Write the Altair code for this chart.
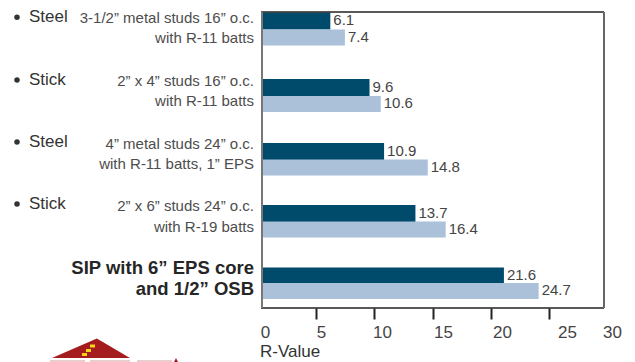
import altair as alt
import pandas as pd

FONT = "Liberation Sans"

# R-values per wall assembly
values_top = [6.1, 9.6, 10.9, 13.7, 21.6]
values_bottom = [7.4, 10.6, 14.8, 16.4, 24.7]
centres_top = [9, 75.5, 139.5, 201.5, 264]
centres_bottom = [25.5, 92, 155.5, 217.5, 280]

# Right-aligned assembly descriptions
detail_text = [
    "3-1/2” metal studs 16” o.c.", "with R-11 batts",
    "2” x 4” studs 16” o.c.", "with R-11 batts",
    "4” metal studs 24” o.c.", "with R-11 batts, 1” EPS",
    "2” x 6” studs 24” o.c.", "with R-19 batts",
]
detail_centres = [6, 26, 69, 89, 132, 152, 194, 215]

sip_text = ["SIP with 6” EPS core", "and 1/2” OSB"]
sip_centres = [256, 277]

# Bulleted framing types on the far left
type_text = ["Steel", "Stick", "Steel", "Stick"]
type_centres = [5, 68, 130, 192]

tick_values = [5, 10, 15, 20, 25]
label_values = [0, 5, 10, 15, 20, 25, 30]
label_places = [3, 59, 120, 181, 240, 305, 350]

# Vertical slots: every row of marks gets a rank, and the rank scale maps to its place
slots = sorted(set(centres_top + centres_bottom + detail_centres + sip_centres + type_centres))
rank = {place: i for i, place in enumerate(slots)}


def ranks(places):
    return [rank[p] for p in places]


y_scale = alt.Scale(
    domain=list(range(len(slots))), range=slots, zero=False, nice=False
)
y_enc = alt.Y("row:Q", scale=y_scale, axis=None)
x_scale = alt.Scale(domain=[0, 30], range=[0, 336])
x_enc = alt.X("v:Q", scale=x_scale, axis=None)

top = pd.DataFrame({"row": ranks(centres_top), "v": values_top})
bottom = pd.DataFrame({"row": ranks(centres_bottom), "v": values_bottom})


def bars(df, colour, thickness):
    return (
        alt.Chart(df)
        .mark_bar(color=colour, size=thickness, orient="horizontal")
        .encode(x=x_enc, y=y_enc)
    )


def value_text(df):
    return (
        alt.Chart(df)
        .mark_text(font=FONT, fontSize=15, color="#444444", align="left", dx=3, dy=-1)
        .encode(x=x_enc, y=y_enc, text=alt.Text("v:Q", format=".1f"))
    )


def side_text(places, text, x, align, size, colour, weight="normal"):
    df = pd.DataFrame({"row": ranks(places), "t": text})
    return (
        alt.Chart(df)
        .mark_text(font=FONT, fontSize=size, color=colour, align=align, fontWeight=weight)
        .encode(x=alt.value(x), y=y_enc, text="t:N")
    )


bullets = (
    alt.Chart(pd.DataFrame({"row": ranks(type_centres)}))
    .mark_point(shape="circle", filled=True, color="#333333", size=30, opacity=1)
    .encode(x=alt.value(-245), y=y_enc)
)

# Axis carrying the tick marks
tick_axis = (
    alt.Chart(pd.DataFrame({"v": [0, 30]}))
    .mark_point(opacity=0)
    .encode(
        x=alt.X(
            "v:Q",
            scale=alt.Scale(domain=[0, 30], range=[-4, 345]),
            title=None,
            axis=alt.Axis(
                values=tick_values, labels=False, grid=False, domain=False,
                tickSize=11, tickWidth=2, tickColor="#222222", orient="bottom",
            ),
        )
    )
)

# Axis carrying the numbers
label_axis = (
    alt.Chart(pd.DataFrame({"v": [0, 30]}))
    .mark_point(opacity=0)
    .encode(
        x=alt.X(
            "v:Q",
            scale=alt.Scale(domain=label_values, range=label_places),
            title=None,
            axis=alt.Axis(
                values=label_values, ticks=False, grid=False, domain=False, format="d",
                labelFont=FONT, labelFontSize=17, labelColor="#444444",
                labelPadding=16, labelFlush=False, labelOverlap=False, orient="bottom",
            ),
        )
    )
)

# Plot frame
frame = [
    alt.Chart().mark_rule(color="#222222", strokeWidth=1.6).encode(
        x=alt.value(-1), x2=alt.value(342), y=alt.value(0)),
    alt.Chart().mark_rule(color="#222222", strokeWidth=1.6).encode(
        x=alt.value(-1), x2=alt.value(342), y=alt.value(296)),
    alt.Chart().mark_rule(color="#777777", strokeWidth=2).encode(
        x=alt.value(0), y=alt.value(0), y2=alt.value(296)),
    alt.Chart().mark_rule(color="#666666", strokeWidth=2).encode(
        x=alt.value(342), y=alt.value(0), y2=alt.value(296)),
]

r_value = (
    alt.Chart()
    .mark_text(font=FONT, fontSize=17, color="#333333", align="left", text="R-Value")
    .encode(x=alt.value(-2), y=alt.value(340))
)

# Roof emblem along the lower edge
ROOF = "M 0.3 -1 L 2 0 L -2 0 Z"
roof = (
    alt.Chart()
    .mark_point(shape=ROOF, filled=True, color="#a51c1f", opacity=1, size=1521, strokeWidth=0)
    .encode(x=alt.value(-171), y=alt.value(346))
)
TIP = "M 0 -1 L 1 1 L -1 1 Z"
roof_tip = (
    alt.Chart()
    .mark_point(shape=TIP, filled=True, color="#a51c1f", opacity=1, size=16, strokeWidth=0)
    .encode(x=alt.value(-86), y=alt.value(348))
)
dashes = [
    alt.Chart()
    .mark_rule(color="#f7d417", strokeWidth=3)
    .encode(x=alt.value(a), x2=alt.value(a + 5), y=alt.value(b))
    for a, b in [(-172, 334), (-176, 338.5), (-180, 342.5)]
]
base_lines = [
    alt.Chart()
    .mark_rule(color="#d99a9a", strokeWidth=1)
    .encode(x=alt.value(a), x2=alt.value(b), y=alt.value(349))
    for a, b in [(-212, -177), (-172, -132), (-125, -90)]
]

chart = (
    alt.layer(
        bars(top, "#004a6b", 17),
        bars(bottom, "#abc0d9", 16),
        value_text(top),
        value_text(bottom),
        side_text(detail_centres, detail_text, -8, "right", 15, "#4d4d4d"),
        side_text(sip_centres, sip_text, -8, "right", 18.5, "#262626", "bold"),
        side_text(type_centres, type_text, -233, "left", 17, "#333333"),
        bullets,
        *frame,
        tick_axis,
        label_axis,
        r_value,
        roof,
        roof_tip,
        *dashes,
        *base_lines,
    )
    .resolve_scale(x="independent")
    .resolve_axis(x="independent")
    .properties(
        width=342,
        height=296,
        padding={"left": 262, "top": 12, "right": 31, "bottom": 54},
        autosize=alt.AutoSizeParams(type="none"),
        background="white",
    )
    .configure_view(stroke=None)
)

chart.save("out.html", embed_options={"renderer": "svg", "actions": False})
